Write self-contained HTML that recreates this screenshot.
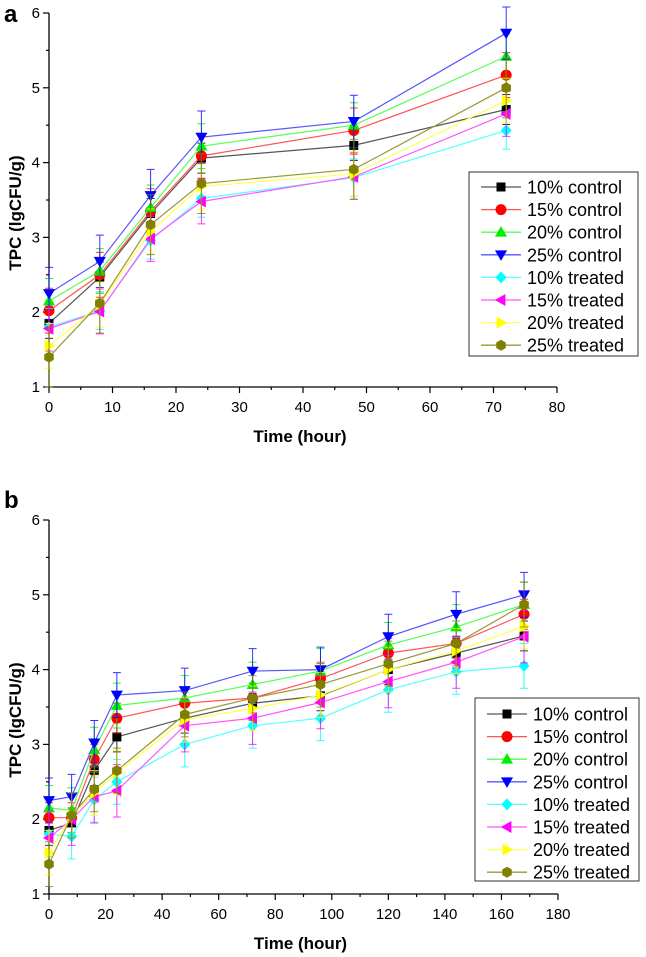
<!DOCTYPE html>
<html><head><meta charset="utf-8"><style>
html,body{margin:0;padding:0;background:#fff;}
svg{display:block;font-family:"Liberation Sans",Arial,sans-serif;}
</style></head><body>
<svg id="fig" width="646" height="957" viewBox="0 0 646 957"></svg>
<script>
const seriesNames = ["10% control","15% control","20% control","25% control","10% treated","15% treated","20% treated","25% treated"];
const seriesColors = ["#000000","#ff0000","#00ee00","#0000ff","#00ffff","#ff00ff","#ffff00","#808000"];
const lineColors = ["#555555","#ff5555","#55ff55","#5555ff","#55ffff","#ff55ff","#ffff55","#999933"];
const markers = ["square","circle","up","down","diamond","left","right","hex"];

const timesA = [0,8,16,24,48,72];
const valuesA = [
 [1.85,2.47,3.32,4.06,4.23,4.71],
 [2.02,2.50,3.35,4.09,4.43,5.17],
 [2.15,2.55,3.40,4.22,4.50,5.42],
 [2.25,2.68,3.56,4.34,4.55,5.73],
 [1.80,2.02,2.96,3.52,3.80,4.43],
 [1.78,2.01,2.98,3.48,3.81,4.65],
 [1.55,2.10,3.08,3.68,3.85,4.83],
 [1.40,2.12,3.17,3.72,3.91,5.00]
];
const errA = [0.2,0.3,0.3,0.35,0.25,0.3,0.3,0.4];
const xTicksA = [0,10,20,30,40,50,60,70,80];

const timesB = [0,8,16,24,48,72,96,120,144,168];
const valuesB = [
 [1.85,1.95,2.65,3.10,3.35,3.55,3.65,4.00,4.22,4.45],
 [2.02,2.02,2.80,3.35,3.55,3.62,3.88,4.22,4.35,4.74],
 [2.15,2.12,2.93,3.52,3.62,3.80,3.98,4.33,4.57,4.87],
 [2.25,2.30,3.02,3.66,3.72,3.98,4.00,4.44,4.74,5.00],
 [1.80,1.77,2.26,2.50,3.00,3.25,3.35,3.73,3.97,4.05],
 [1.75,2.00,2.30,2.38,3.25,3.35,3.56,3.84,4.10,4.44],
 [1.55,2.05,2.35,2.62,3.33,3.48,3.66,4.00,4.25,4.58],
 [1.40,2.05,2.40,2.65,3.40,3.62,3.80,4.08,4.35,4.87]
];
const errB = [0.2,0.2,0.3,0.3,0.3,0.35,0.3,0.3,0.3,0.3];
const xTicksB = [0,20,40,60,80,100,120,140,160,180];
const yTicks = [1,2,3,4,5,6];

const NS="http://www.w3.org/2000/svg";
const svg=document.getElementById('fig');
function mk(tag,attrs,parent){const e=document.createElementNS(NS,tag);for(const k in attrs)e.setAttribute(k,attrs[k]);(parent||svg).appendChild(e);return e;}

function markerShape(g,type,cx,cy,color){
  const r=5.5;let e;
  if(type==="square"){e=mk('rect',{x:cx-4.5,y:cy-4.5,width:9,height:9,fill:color},g);}
  else if(type==="circle"){e=mk('circle',{cx:cx,cy:cy,r:5.5,fill:color},g);}
  else{
    let pts;
    if(type==="up")pts=[[0,-r*1.1],[r*1.1,r*0.8],[-r*1.1,r*0.8]];
    else if(type==="down")pts=[[0,r*1.1],[r*1.1,-r*0.8],[-r*1.1,-r*0.8]];
    else if(type==="left")pts=[[-r*1.1,0],[r*0.8,-r*1.1],[r*0.8,r*1.1]];
    else if(type==="right")pts=[[r*1.1,0],[-r*0.8,-r*1.1],[-r*0.8,r*1.1]];
    else if(type==="diamond")pts=[[0,-r*1.1],[r,0],[0,r*1.1],[-r,0]];
    else {pts=[];for(let i=0;i<6;i++){const a=Math.PI/6+i*Math.PI/3;pts.push([r*Math.cos(a),r*Math.sin(a)]);}}
    e=mk('polygon',{points:pts.map(p=>(cx+p[0])+','+(cy+p[1])).join(' '),fill:color},g);
  }
  return e;
}

function chart(opt){
  const {letter,letterY,x0,x1,xMax,yTop,yBot,times,values,errs,xTicks,minorX,legend,ylabY,prefix}=opt;
  const sx=v=>x0+(x1-x0)*v/xMax;
  const sy=v=>yBot-(yBot-yTop)*(v-1)/5;
  const g=mk('g',{});
  
  
  const lt=mk('text',{x:4,y:letterY,'font-size':24,'font-weight':'bold',fill:'#000'},g);
  lt.textContent=letter;
  
  
  const ax=mk('path',{d:`M${x0},${yTop} V${yBot} H${x1}`,stroke:'#000','stroke-width':1.3,fill:'none'},g);
  
  
  for(let v=1;v<=6;v+=0.5){
    const y=sy(v);const major=Number.isInteger(v);
    mk('line',{x1:x0-(major?6:3),x2:x0,y1:y,y2:y,stroke:'#000','stroke-width':1.2},g);
  }
  yTicks.forEach(v=>{
    const t=mk('text',{x:x0-9,y:sy(v)+5,'font-size':15,'text-anchor':'end',fill:'#000'},g);
    t.textContent=v;
    
    
  });
  for(let v=0;v<=xMax;v+=minorX){
    const x=sx(v);const major=xTicks.includes(v);
    mk('line',{x1:x,x2:x,y1:yBot,y2:yBot+(major?6:3),stroke:'#000','stroke-width':1.2},g);
  }
  xTicks.forEach(v=>{
    const t=mk('text',{x:sx(v),y:yBot+25,'font-size':15,'text-anchor':'middle',fill:'#000'},g);
    t.textContent=v;
    
    
  });
  const xt=mk('text',{x:(x0+x1)/2-3,y:yBot+55,'font-size':17,'font-weight':'bold','text-anchor':'middle',fill:'#000'},g);
  xt.textContent='Time (hour)';
  
  
  const yt=mk('text',{x:0,y:0,'font-size':17,'font-weight':'bold','text-anchor':'middle',fill:'#000',transform:`translate(21,${ylabY}) rotate(-90)`},g);
  yt.textContent='TPC (lgCFU/g)';
  
  
  values.forEach((vals,si)=>{
    const sg=mk('g',{},g);
    
    
    vals.forEach((v,i)=>{
      const x=sx(times[i]);const e=errs[si];
      mk('path',{d:`M${x},${sy(v+e)} V${sy(v-e)} M${x-4},${sy(v+e)} h8 M${x-4},${sy(v-e)} h8`,stroke:seriesColors[si],'stroke-width':1,fill:'none',opacity:0.8},sg);
    });
    const line=mk('polyline',{points:vals.map((v,i)=>sx(times[i])+','+sy(v)).join(' '),stroke:lineColors[si],'stroke-width':1.2,fill:'none'},sg);
    
    
    vals.forEach((v,i)=>{
      const m=markerShape(sg,markers[si],sx(times[i]),sy(v),seriesColors[si]);
      
      
    });
  });
  const lg=mk('g',{},g);
  
  
  mk('rect',{x:legend.x,y:legend.y,width:legend.w,height:legend.h,fill:'#fff',stroke:'#333','stroke-width':1},lg);
  seriesNames.forEach((n,si)=>{
    const y=legend.y+legend.first+si*22.6;
    const eg=mk('g',{},lg);
    
    
    mk('line',{x1:legend.x+12,x2:legend.x+52,y1:y,y2:y,stroke:lineColors[si],'stroke-width':1.3},eg);
    markerShape(eg,markers[si],legend.x+32,y,seriesColors[si]);
    const t=mk('text',{x:legend.x+58,y:y+6.5,'font-size':18,fill:'#000'},eg);
    t.textContent=n;
  });
}

chart({prefix:'a-',letter:'a',letterY:22,x0:49,x1:557,xMax:80,yTop:13,yBot:387,times:timesA,values:valuesA,errs:errA,xTicks:xTicksA,minorX:5,
  legend:{x:469,y:172,w:169,h:184,first:15},ylabY:213});
chart({prefix:'b-',letter:'b',letterY:508,x0:49,x1:558,xMax:180,yTop:520,yBot:894,times:timesB,values:valuesB,errs:errB,xTicks:xTicksB,minorX:10,
  legend:{x:475,y:698,w:164,h:183,first:16},ylabY:720});
</script>
</body></html>
